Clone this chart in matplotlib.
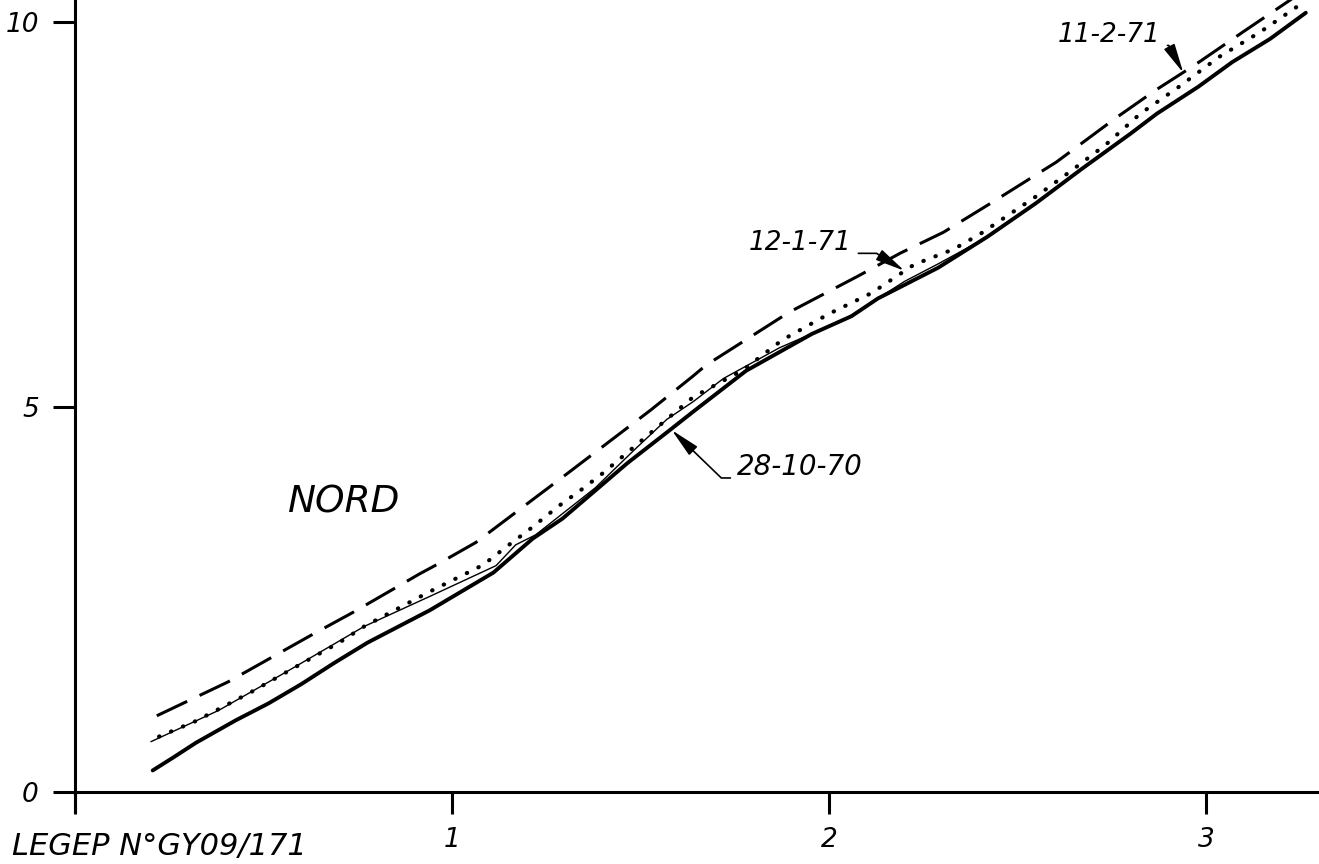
import matplotlib.pyplot as plt

# curves (tilt of the scan removed)
thick_x = [0.206, 0.258, 0.321, 0.426, 0.513, 0.60, 0.689, 0.776, 0.941, 1.11, 1.214, 1.293, 1.379,
           1.465, 1.57, 1.64, 1.78, 1.955, 2.06, 2.13, 2.29, 2.42, 2.55, 2.67, 2.80, 2.87, 2.98,
           3.07, 3.17, 3.265]
thick_y = [0.28, 0.44, 0.64, 0.93, 1.15, 1.40, 1.68, 1.94, 2.36, 2.85, 3.29, 3.55, 3.91,
           4.27, 4.67, 4.94, 5.47, 5.95, 6.18, 6.41, 6.81, 7.21, 7.65, 8.09, 8.55, 8.81, 9.16,
           9.48, 9.78, 10.12]

thin_x = [0.202, 0.381, 0.557, 0.767, 0.941, 1.117, 1.169, 1.222, 1.38, 1.483, 1.57, 1.64, 1.72,
          1.869, 2.043, 2.13, 2.20, 2.29, 2.38, 2.42]
thin_y = [0.655, 1.06, 1.55, 2.15, 2.54, 2.94, 3.21, 3.34, 3.95, 4.44, 4.84, 5.07, 5.37,
          5.77, 6.14, 6.41, 6.63, 6.86, 7.10, 7.21]

dot_x = [0.223, 0.32, 0.468, 0.591, 0.704, 0.767, 0.94, 1.083, 1.143, 1.203, 1.282, 1.347, 1.40,
         1.64, 1.772, 1.876, 2.0, 2.113, 2.226, 2.331, 2.402, 2.551, 2.646, 2.735, 2.826, 2.926,
         3.036, 3.144, 3.248]
dot_y = [0.72, 0.92, 1.30, 1.64, 1.95, 2.15, 2.60, 2.95, 3.18, 3.40, 3.71, 3.94, 4.14,
         5.13, 5.48, 5.87, 6.21, 6.48, 6.85, 7.05, 7.25, 7.74, 8.08, 8.41, 8.81, 9.15,
         9.55, 9.87, 10.22]

dash_x = [0.217, 0.406, 0.624, 0.74, 0.913, 0.966, 1.063, 1.307, 1.527, 1.639, 1.673, 1.894,
          2.077, 2.19, 2.304, 2.427, 2.603, 2.76, 2.865, 2.97, 3.101, 3.258]
dash_y = [0.99, 1.43, 2.03, 2.34, 2.83, 2.97, 3.24, 4.14, 4.96, 5.40, 5.54, 6.23,
          6.70, 7.00, 7.27, 7.64, 8.18, 8.75, 9.11, 9.44, 9.88, 10.40]

xticks = [0, 1, 2, 3]
xticklabels = ['', '1', '2', '3']
yticks = [0, 5, 10]
yticklabels = ['0', '5', '10']

FONT = dict(family='DejaVu Sans', style='italic')

fig = plt.figure(figsize=(13.19, 8.64), dpi=100)
ax = fig.add_axes([0, 0, 1, 1])
ax.set_xlim(-0.199, 3.30)
ax.set_ylim(-0.935, 10.286)

ax.plot(thick_x, thick_y, color='black', lw=2.8, solid_capstyle='round', solid_joinstyle='round')
ax.plot(thin_x, thin_y, color='black', lw=1.0)
ax.plot(dot_x, dot_y, color='black', lw=3.0, linestyle=(0, (0.1, 3.0)), dash_capstyle='round')
ax.plot(dash_x, dash_y, color='black', lw=2.2, linestyle=(0, (11, 4.5)))

for s in ['top', 'right']:
    ax.spines[s].set_visible(False)
ax.spines['left'].set_position(('data', 0))
ax.spines['bottom'].set_position(('data', 0))
ax.spines['left'].set_bounds(-0.25, 10.3)
ax.spines['bottom'].set_bounds(0, 3.3)
for s in ['left', 'bottom']:
    ax.spines[s].set_linewidth(2.2)

ax.set_xticks(xticks)
ax.set_xticklabels(xticklabels, **FONT)
ax.set_yticks(yticks)
ax.set_yticklabels(yticklabels, **FONT)
ax.tick_params(axis='both', direction='out', length=16, width=2.2, labelsize=19)
ax.tick_params(axis='x', pad=9)
ax.tick_params(axis='y', pad=10)

ax.text(0.566, 3.63, 'NORD', fontsize=27, **FONT)

arrow = dict(arrowstyle='-|>,head_length=0.9,head_width=0.18', color='black', lw=1.2,
             mutation_scale=20, shrinkA=3, shrinkB=0)

ax.annotate('28-10-70', xy=(1.583, 4.70), xytext=(1.757, 4.12), fontsize=20,
            va='baseline', ha='left',
            arrowprops=dict(arrow, relpos=(0, 0.1),
                            connectionstyle='angle,angleA=0,angleB=-44,rad=0'), **FONT)
ax.annotate('12-1-71', xy=(2.20, 6.77), xytext=(1.787, 7.04), fontsize=19,
            va='baseline', ha='left',
            arrowprops=dict(arrow, relpos=(1, 0.1),
                            connectionstyle='angle,angleA=0,angleB=-32,rad=0'), **FONT)
ax.annotate('11-2-71', xy=(2.94, 9.34), xytext=(2.607, 9.74), fontsize=19,
            va='baseline', ha='left',
            arrowprops=dict(arrow, relpos=(1, 0.1),
                            connectionstyle='angle,angleA=0,angleB=-62,rad=0'), **FONT)

fig.text(0.009, 0.0104, 'LEGEP N°GY09/171', fontsize=22, va='baseline', ha='left', **FONT)

fig.savefig('out.png', dpi=100)
